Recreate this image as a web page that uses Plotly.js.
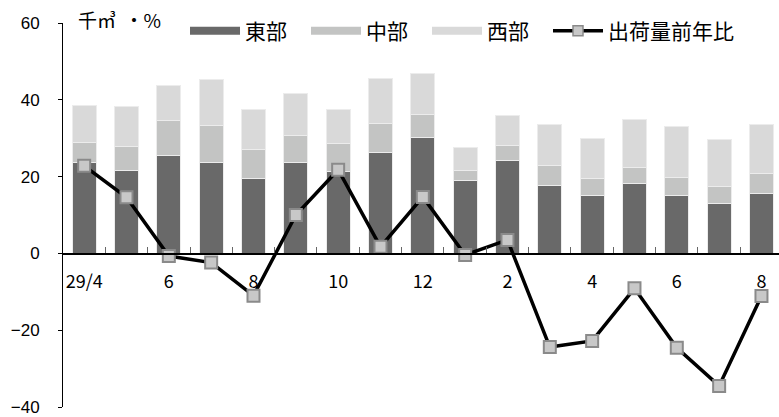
<!DOCTYPE html>
<html>
<head>
<meta charset="utf-8">
<script src="https://cdn.plot.ly/plotly-3.0.1.min.js"></script>
<style>
  html, body { margin: 0; padding: 0; background: #fff; }
  #chart { width: 779px; height: 417px; }
</style>
</head>
<body>
<div id="chart"></div>
<script>
// Months, H29/4 through H30/8
var months = ['29/4', '5', '6', '7', '8', '9', '10', '11', '12', '1', '2', '3', '4', '5', '6', '7', '8'];

// Shipments by region (thousand m3), stacked
var east    = [23.6, 21.7, 25.6, 23.6, 19.6, 23.6, 21.2, 26.2, 30.1, 18.9, 24.3, 17.8, 15.0, 18.3, 15.2, 13.1, 15.7];
var central = [5.2, 6.1, 8.9, 9.6, 7.4, 7.1, 7.3, 7.5, 6.2, 2.6, 3.7, 5.2, 4.6, 4.0, 4.5, 4.2, 5.0];
var west    = [9.8, 10.4, 9.2, 12.0, 10.4, 11.0, 9.1, 11.9, 10.5, 6.2, 8.0, 10.6, 10.2, 12.5, 13.3, 12.3, 12.8];

// Year-on-year change of shipments (%)
var yoy = [22.8, 14.6, -0.7, -2.4, -11.0, 10.0, 21.8, 1.7, 14.7, -0.4, 3.5, -24.4, -22.8, -9.1, -24.6, -34.5, -11.1];

var seriesNames = ['東部', '中部', '西部', '出荷量前年比'];
var unitLabel = '千㎥  ・%';

var colEast = '#696969', colCentral = '#c3c4c3', colWest = '#d9d9d9';

var xs = months.map(function (m, i) { return i; });
var labelIdx = xs.filter(function (i) { return i % 2 === 0; });
var boundaries = xs.map(function (i) { return i + 0.5; });

function barTrace(vals, color, name) {
  return {
    type: 'bar', x: xs, y: vals, name: name, showlegend: false,
    marker: { color: color, line: { color: '#ececec', width: 1 } },
    hoverinfo: 'skip'
  };
}

function legendLine(name, color, width) {
  return {
    type: 'scatter', mode: 'lines', x: [null], y: [null], name: name,
    line: { color: color, width: width }, hoverinfo: 'skip'
  };
}

var traces = [
  barTrace(east, colEast, seriesNames[0]),
  barTrace(central, colCentral, seriesNames[1]),
  barTrace(west, colWest, seriesNames[2]),
  {
    type: 'scatter', mode: 'lines+markers', x: xs, y: yoy, name: seriesNames[3],
    showlegend: false, cliponaxis: false,
    line: { color: '#000', width: 3.5 },
    marker: { symbol: 'square', size: 12, color: '#c8c8c8', line: { color: '#8a8a8a', width: 2 } },
    hoverinfo: 'skip'
  },
  legendLine(seriesNames[0], colEast, 8),
  legendLine(seriesNames[1], colCentral, 8),
  legendLine(seriesNames[2], colWest, 8),
  {
    type: 'scatter', mode: 'lines+markers', x: [null], y: [null], name: seriesNames[3],
    legendwidth: 150,
    line: { color: '#000', width: 3.5 },
    marker: { symbol: 'square', size: 10, color: '#c8c8c8', line: { color: '#8a8a8a', width: 1.5 } },
    hoverinfo: 'skip'
  }
];

var cjk = '"Noto Sans CJK JP", "Noto Sans", sans-serif';

var layout = {
  width: 779, height: 417,
  margin: { l: 63, r: 0, t: 23, b: 10, autoexpand: false },
  paper_bgcolor: '#fff', plot_bgcolor: '#fff',
  barmode: 'stack', bargap: 0.44,
  showlegend: true,
  xaxis: {
    range: [-0.5, 16.414],
    anchor: 'free', position: 0.4,
    showline: true, linecolor: '#000', linewidth: 1.5,
    showgrid: false, zeroline: false,
    tickmode: 'array', tickvals: labelIdx,
    ticktext: labelIdx.map(function (i) { return months[i]; }),
    ticks: '', ticklabelstandoff: 11,
    tickfont: { family: cjk, size: 18, color: '#000' },
    minor: { tickmode: 'array', tickvals: boundaries, ticks: 'inside', ticklen: 6, tickwidth: 1, tickcolor: '#666' }
  },
  yaxis: {
    range: [-40, 60],
    tickmode: 'array', tickvals: [-40, -20, 0, 20, 40, 60],
    showline: true, linecolor: '#000', linewidth: 1,
    ticks: 'outside', ticklen: 4, tickcolor: '#000', tickwidth: 1,
    showgrid: false, zeroline: false,
    ticklabelstandoff: 15,
    tickfont: { family: '"Liberation Sans", Arial, sans-serif', size: 17, color: '#000' }
  },
  legend: {
    orientation: 'h', x: 0.1704, xanchor: 'left', y: 0.979, yanchor: 'middle',
    itemwidth: 50, entrywidth: 56, entrywidthmode: 'pixels',
    bgcolor: 'rgba(0,0,0,0)', borderwidth: 0, traceorder: 'normal',
    font: { family: cjk, size: 21, color: '#000' }
  },
  annotations: [{
    xref: 'paper', yref: 'paper', x: 0.018, y: 1.008, xanchor: 'left', yanchor: 'middle',
    text: unitLabel, showarrow: false,
    font: { family: cjk, size: 19, color: '#000' }
  }]
};

Plotly.newPlot('chart', traces, layout, { staticPlot: true, displayModeBar: false });
</script>
</body>
</html>
